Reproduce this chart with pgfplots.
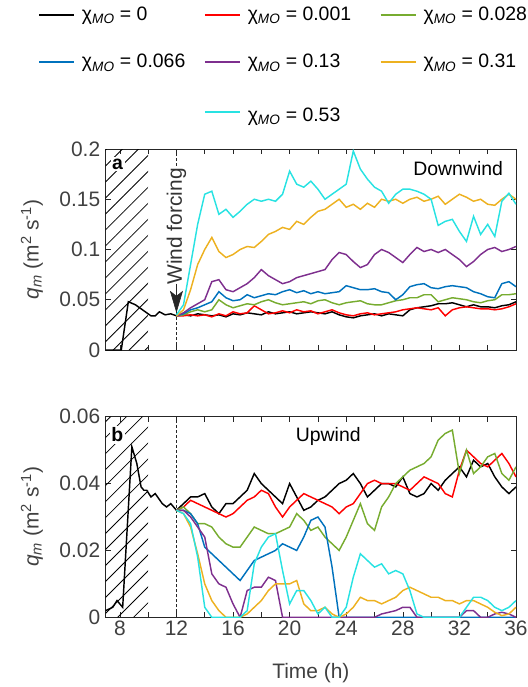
\documentclass[border=0pt]{standalone}
\usepackage{fontspec}
\setmainfont{Liberation Sans}
\usepackage{pgfplots}
\pgfplotsset{compat=1.18}
\usepackage{pgfplotstable}
\usetikzlibrary{patterns.meta,arrows.meta}

\definecolor{mblack}{RGB}{0,0,0}
\definecolor{mred}{RGB}{255,0,0}
\definecolor{mgreen}{RGB}{119,172,48}
\definecolor{mblue}{RGB}{0,114,189}
\definecolor{mpurple}{RGB}{126,47,142}
\definecolor{morange}{RGB}{237,177,32}
\definecolor{mcyan}{RGB}{40,226,226}

\newcommand{\tf}{\fontsize{19.5}{23}\selectfont}
\newcommand{\kf}{\fontsize{21}{25}\selectfont}
\newcommand{\lf}{\fontsize{21}{25}\selectfont}

\pgfplotstableread{
t c0 c1 c2 c3 c4 c5 c6
12 .034 .034 .034 .034 .034 .034 .035
12.5 .035 .034 .035 .036 .037 .040 .045
13 .034 .035 .038 .040 .042 .060 .085
13.5 .036 .034 .040 .042 .046 .085 .125
14 .035 .035 .038 .045 .050 .100 .155
14.5 .034 .033 .040 .048 .068 .112 .158
15 .035 .036 .050 .058 .070 .098 .135
15.5 .033 .034 .045 .052 .060 .092 .140
16 .036 .038 .042 .049 .058 .095 .132
16.5 .035 .036 .044 .050 .062 .100 .138
17 .037 .037 .046 .055 .066 .103 .145
17.5 .036 .044 .045 .052 .072 .102 .150
18 .035 .040 .048 .054 .080 .108 .148
18.5 .038 .036 .050 .056 .074 .115 .150
19 .036 .037 .047 .055 .070 .118 .148
19.5 .037 .039 .045 .058 .066 .122 .155
20 .038 .037 .046 .060 .068 .120 .178
20.5 .036 .040 .047 .057 .072 .128 .165
21 .037 .038 .048 .059 .074 .125 .162
21.5 .038 .039 .046 .056 .076 .132 .168
22 .037 .036 .049 .058 .078 .138 .160
22.5 .036 .038 .050 .056 .080 .140 .150
23 .038 .040 .047 .057 .090 .145 .155
23.5 .035 .037 .045 .058 .097 .150 .160
24 .033 .035 .047 .064 .095 .142 .165
24.5 .032 .034 .048 .062 .088 .145 .198
25 .034 .036 .049 .060 .082 .140 .180
25.5 .035 .037 .046 .060 .085 .146 .170
26 .036 .035 .045 .061 .095 .142 .162
26.5 .034 .036 .045 .058 .100 .150 .158
27 .036 .037 .047 .057 .097 .148 .146
27.5 .035 .038 .049 .050 .092 .150 .155
28 .034 .040 .050 .055 .087 .146 .160
28.5 .040 .041 .052 .063 .095 .150 .160
29 .042 .042 .052 .065 .102 .152 .158
29.5 .043 .041 .055 .066 .098 .148 .155
30 .044 .040 .055 .062 .100 .150 .150
30.5 .046 .042 .048 .061 .097 .153 .124
31 .046 .034 .050 .063 .100 .145 .128
31.5 .047 .040 .052 .064 .095 .150 .130
32 .045 .042 .051 .063 .090 .155 .118
32.5 .043 .043 .050 .062 .083 .152 .108
33 .045 .042 .048 .058 .088 .148 .133
33.5 .043 .041 .047 .056 .095 .150 .115
34 .043 .041 .049 .053 .100 .145 .125
34.5 .042 .040 .050 .052 .102 .144 .113
35 .044 .041 .055 .066 .098 .150 .148
35.5 .045 .043 .055 .068 .100 .155 .156
36 .048 .046 .056 .063 .103 .150 .145
}\tablea

\pgfplotstableread{
t c0 c1 c2 c3 c4 c5 c6
12 .032 .032 .032 .032 .032 .032 .032
12.5 .034 .033 .033 .032 .032 .031 .031
13 .036 .035 .031 .031 .030 .027 .028
13.5 .036 .034 .028 .028 .027 .019 .018
14 .037 .033 .028 .021 .024 .010 .003
14.5 .033 .032 .027 .019 .013 .005 0
15 .031 .031 .024 .017 .010 .002 0
15.5 .034 .030 .022 .015 .009 0 0
16 .034 .031 .021 .013 .004 0 0
16.5 .036 .033 .021 .011 0 0 0
17 .038 .035 .024 .014 .008 .001 .002
17.5 .043 .036 .027 .017 .009 .003 .016
18 .040 .038 .026 .018 .009 .005 .021
18.5 .038 .037 .025 .019 .012 .008 .024
19 .036 .033 .025 .020 .011 .010 .025
19.5 .034 .030 .026 .022 0 .010 .014
20 .040 .033 .027 .021 0 .010 .004
20.5 .036 .035 .031 .020 0 .011 .008
21 .032 .037 .029 .024 0 .004 .008
21.5 .033 .036 .026 .029 0 .002 .005
22 .035 .035 .027 .030 0 .002 .001
22.5 .036 .034 .024 .027 0 .003 .003
23 .038 .033 .022 .015 0 .001 0
23.5 .040 .031 .020 0 0 0 0
24 .041 .033 .024 0 0 .001 .003
24.5 .043 .034 .029 0 0 .003 .012
25 .040 .037 .034 0 0 .006 .019
25.5 .036 .040 .028 0 0 .005 .017
26 .038 .041 .026 0 0 .005 .015
26.5 .040 .040 .033 0 .001 .004 .016
27 .040 .040 .036 0 .0015 .005 .013
27.5 .039 .040 .040 0 .002 .006 .014
28 .042 .039 .042 0 .003 .008 .013
28.5 .037 .038 .044 0 .003 .009 .008
29 .036 .040 .045 0 0 .008 .001
29.5 .037 .042 .046 0 0 .007 0
30 .040 .041 .048 0 0 .006 0
30.5 .038 .040 .053 0 0 .006 0
31 .041 .037 .055 0 0 .005 0
31.5 .043 .036 .056 0 0 .005 0
32 .045 .044 .043 0 0 .004 0
32.5 .042 .050 .050 0 .002 .005 .003
33 .047 .048 .043 0 .002 .005 .006
33.5 .045 .046 .045 0 0 .004 .006
34 .046 .045 .048 0 0 .003 .005
34.5 .042 .047 .049 0 .001 .0015 .003
35 .039 .049 .043 0 .0015 .0005 .002
35.5 .037 .046 .041 0 .001 .001 .003
36 .039 .042 .045 0 0 .003 .005
}\tableb

\pgfplotsset{
  panel/.style={
    scale only axis, width=410.3bp, height=201bp,
    xmin=7, xmax=36,
    xtick={8,10,...,36},
    scaled y ticks=false, scaled x ticks=false,
    tick align=inside, xtick pos=both, ytick pos=both,
    xticklabel pos=lower, yticklabel pos=left,
    major tick length=5bp,
    axis line style={black!85, line width=0.6bp},
    every tick/.style={black!85, line width=0.6bp},
    xticklabel style={font=\kf, text=black!75},
    yticklabel style={font=\kf, text=black!75, xshift=-2bp},
    xlabel style={font=\lf, text=black!75},
    ylabel style={font=\lf, text=black!75, at={(axis description cs:-0.18,0.5)}, anchor=center},
    every axis plot/.append style={line width=1.45bp},
    /pgf/number format/assume math mode=true,
  },
  hatch/.style={draw=none, forget plot, pattern={Lines[angle=45,distance=11.3bp,line width=0.8bp]}},
}
\newcommand{\qlab}{\textit{q}\textsubscript{\textit{m}} (m\textsuperscript{2} s\textsuperscript{-1})}
\newcommand{\chiMO}{χ\textsubscript{\textit{MO}}}
\newcommand{\legtext}[2]{\tf\makebox[#1][l]{#2}}

\begin{document}
\begin{tikzpicture}
\path[use as bounding box] (-105.7bp,149bp) rectangle (422.3bp,-538bp);

\begin{axis}[panel, at={(0,0)}, anchor=north west,
  ymin=0, ymax=0.2, ytick={0,0.05,0.1,0.15,0.2}, yticklabels={0,0.05,0.1,0.15,0.2},
  xticklabels={},
  ylabel={\qlab},
  legend columns=3,
  legend cell align=left,
  legend style={at={(axis description cs:-0.165,1.706)}, anchor=north west, draw=none, fill=none,
    font=\tf, text=black, inner sep=0pt, row sep=32bp,
    nodes={inner sep=0pt},
    /tikz/every odd column/.style={column sep=7bp},
    /tikz/every even column/.style={column sep=0bp}},
  legend image code/.code={\draw[#1, line width=1.8bp] (0bp,0bp) -- (35bp,0bp);},
]
\addplot[hatch] coordinates {(7,0) (10,0) (10,0.2) (7,0.2)} \closedcycle;

\addlegendimage{mblack}\addlegendentry{\legtext{122bp}{\chiMO{} = 0}}
\addlegendimage{mred}\addlegendentry{\legtext{132bp}{\chiMO{} = 0.001}}
\addlegendimage{mgreen}\addlegendentry{\legtext{100bp}{\chiMO{} = 0.028}}
\addlegendimage{mblue}\addlegendentry{\legtext{122bp}{\chiMO{} = 0.066}}
\addlegendimage{mpurple}\addlegendentry{\legtext{132bp}{\chiMO{} = 0.13}}
\addlegendimage{morange}\addlegendentry{\legtext{100bp}{\chiMO{} = 0.31}}
\addlegendimage{empty legend}\addlegendentry{}
\addlegendimage{mcyan}\addlegendentry{\legtext{132bp}{\rule{0pt}{20bp}\chiMO{} = 0.53}}
\addlegendimage{empty legend}\addlegendentry{}

\draw[densely dashed, line width=0.6bp, black!85] (axis cs:12,0) -- (axis cs:12,0.2);
\node[rotate=90, fill=white, inner sep=2bp, font=\kf, text=black!80] at (axis cs:12,0.123) {Wind forcing};
\draw[densely dashed, line width=0.6bp, black!85, -{Stealth[length=22bp,width=13bp,inset=5bp]}] (axis cs:12,0.066) -- (axis cs:12,0.037);

\addplot[mblack, forget plot] coordinates {(7,0)(8.1,0)(8.6,0.048)(9.1,0.045)(9.6,0.040)(10.2,0.034)(10.5,0.034)(10.8,0.038)(11.2,0.035)(11.6,0.036)(12,0.034)};
\addplot[mblack, forget plot] table[x=t,y=c0] {\tablea};
\addplot[mred, forget plot] table[x=t,y=c1] {\tablea};
\addplot[mgreen, forget plot] table[x=t,y=c2] {\tablea};
\addplot[mblue, forget plot] table[x=t,y=c3] {\tablea};
\addplot[mpurple, forget plot] table[x=t,y=c4] {\tablea};
\addplot[morange, forget plot] table[x=t,y=c5] {\tablea};
\addplot[mcyan, forget plot] table[x=t,y=c6] {\tablea};

\node[fill=white, inner sep=1.5bp, font=\tf\bfseries] at (rel axis cs:0.029,0.925) {a};
\node[font=\tf] at (rel axis cs:0.859,0.905) {Downwind};
\end{axis}

\begin{axis}[panel, at={(0,-267.7bp)}, anchor=north west, height=200.6bp,
  ymin=0, ymax=0.06, ytick={0,0.02,0.04,0.06}, yticklabels={0,0.02,0.04,0.06},
  xticklabels={8,,12,,16,,20,,24,,28,,32,,36},
  ylabel={\qlab}, xlabel={Time (h)},
  xlabel style={at={(axis description cs:0.5,-0.278)}, anchor=center},
]
\addplot[hatch] coordinates {(7,0) (10,0) (10,0.06) (7,0.06)} \closedcycle;
\draw[densely dashed, line width=0.6bp, black!85] (axis cs:12,0) -- (axis cs:12,0.06);

\addplot[mblack] coordinates {(7,0.002)(7.5,0.003)(7.8,0.005)(8.2,0.003)(8.85,0.051)(9.2,0.046)(9.5,0.039)(9.7,0.038)(9.9,0.038)(10.2,0.036)(10.5,0.037)(11,0.034)(11.3,0.033)(11.6,0.034)(12,0.032)};
\addplot[mblack] table[x=t,y=c0] {\tableb};
\addplot[mred] table[x=t,y=c1] {\tableb};
\addplot[mgreen] table[x=t,y=c2] {\tableb};
\addplot[mblue] table[x=t,y=c3] {\tableb};
\addplot[mpurple] table[x=t,y=c4] {\tableb};
\addplot[morange] table[x=t,y=c5] {\tableb};
\addplot[mcyan] table[x=t,y=c6] {\tableb};

\node[fill=white, inner sep=1.5bp, font=\tf\bfseries] at (rel axis cs:0.028,0.909) {b};
\node[font=\tf] at (rel axis cs:0.5425,0.90) {Upwind};
\end{axis}
\end{tikzpicture}
\end{document}
